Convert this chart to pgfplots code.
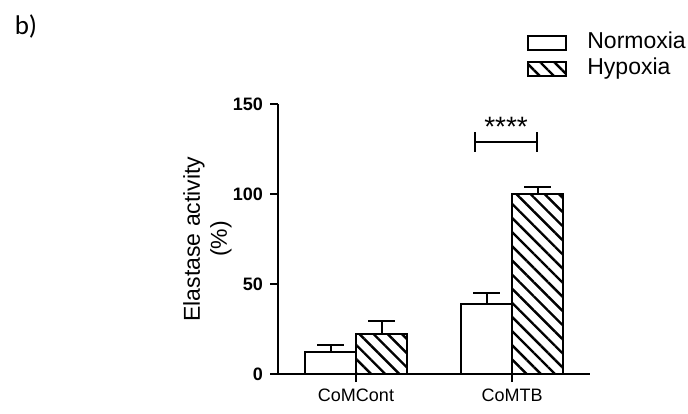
\documentclass[border=0pt]{standalone}
\usepackage{pgfplots}
\pgfplotsset{compat=1.18}
\usepackage{fontspec}
\setmainfont{Liberation Sans}
\newfontfamily\panelfont{Carlito}
\usetikzlibrary{patterns.meta}
\pgfplotsset{boxlegend/.style={legend image code/.code={\draw[##1] (0pt,-3.5pt) rectangle (19pt,3.5pt);}}}
\begin{document}
\begin{tikzpicture}
\path[use as bounding box] (0,0) rectangle (344pt,206.5pt);
\node[font=\panelfont\fontsize{13.5}{15}\selectfont] at (13pt,193.5pt) {b)};
\begin{axis}[
    at={(139pt,19.5pt)}, anchor=south west,
    scale only axis, width=156pt, height=135pt,
    xmin=-0.5, xmax=1.5, ymin=0, ymax=150,
    axis lines*=left,
    axis line style={line width=1pt},
    tick style={line width=1pt, black},
    tick align=outside, major tick length=4pt,
    xtick={0,1}, xticklabels={CoMCont,CoMTB},
    ytick={0,50,100,150},
    /pgf/number format/assume math mode=true,
    yticklabel style={font=\bfseries\fontsize{9}{10}\selectfont},
    xticklabel style={font=\fontsize{9}{10}\selectfont},
    ylabel={Elastase activity\\(\%)},
    ylabel style={align=center, font=\fontsize{11.5}{13.5}\selectfont,
        at={(axis description cs:-0.226,0.5)}, anchor=center},
    ybar=0pt, bar width=25.5pt,
    legend style={draw=none, fill=none, at={(0.798,1.276)}, anchor=north west,
        inner sep=0pt, font=\fontsize{11.5}{13}\selectfont, row sep=0pt,
        nodes={inner sep=1pt, text height=8.5pt, text depth=2.5pt},
        /tikz/every odd column/.append style={column sep=9pt}},
    legend cell align=left,
]
\addplot[fill=white, draw=black, line width=1pt, boxlegend,
    error bars/.cd, y dir=plus, y explicit,
    error bar style={line width=1pt, black},
    error mark options={rotate=90, mark size=6.75pt, line width=1pt, black}]
    coordinates {(0,12.3) +- (0,3.8) (1,39) +- (0,6)};
\addplot[draw=black, line width=1pt,
    pattern={Lines[angle=-45,distance=5pt,line width=1.2pt]}, boxlegend,
    error bars/.cd, y dir=plus, y explicit,
    error bar style={line width=1pt, black},
    error mark options={rotate=90, mark size=6.75pt, line width=1pt, black}]
    coordinates {(0,22.2) +- (0,7.2) (1,100) +- (0,3.9)};
\legend{Normoxia, Hypoxia}
\draw[line width=1pt] (axis cs:0.763,129) -- (axis cs:1.16,129);
\draw[line width=1pt] (axis cs:0.763,123.5) -- (axis cs:0.763,134.5);
\draw[line width=1pt] (axis cs:1.16,123.5) -- (axis cs:1.16,134.5);
\node[font=\fontsize{14}{16}\selectfont, anchor=base] at (axis cs:0.962,132) {****};
\end{axis}
\end{tikzpicture}
\end{document}
